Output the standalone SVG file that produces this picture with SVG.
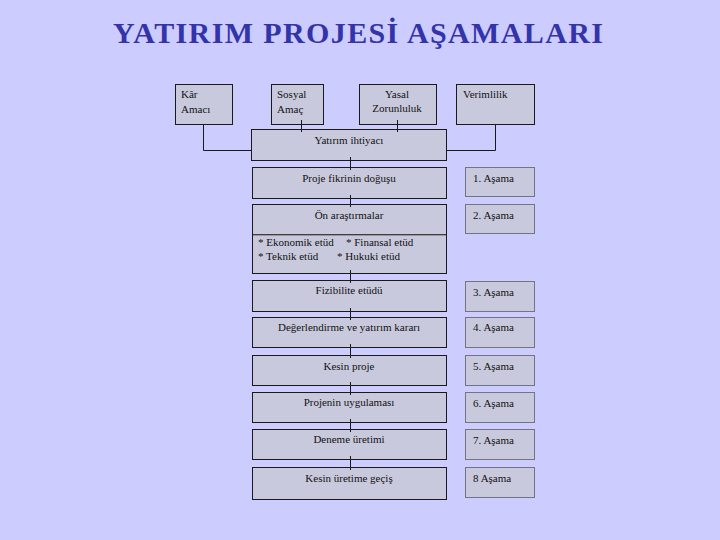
<svg xmlns="http://www.w3.org/2000/svg" width="720" height="540" viewBox="0 0 720 540">
<style>
.bg{fill:#CCCCFF}
.box{fill:#C9C9DD;stroke:#1a1a1a;stroke-width:1}
.stage{fill:#C9C9DD;stroke:#1a1a1a;stroke-width:1;stroke-dasharray:1 1}
.t{font-family:"Liberation Serif","Times New Roman",serif;font-size:11px;fill:#111}
.c{text-anchor:middle}
.title{font-family:"Liberation Serif","Times New Roman",serif;font-size:30px;font-weight:bold;fill:#3333AA;text-anchor:middle}
.ln{stroke:#1a1a1a;stroke-width:1;fill:none}
</style>
<rect class="bg" x="0" y="0" width="720" height="540"/>
<text class="title" x="358" y="43" textLength="490" lengthAdjust="spacing">YATIRIM PROJESİ AŞAMALARI</text>

<g id="kar"><rect class="box" x="175.5" y="84.5" width="57" height="40"/><text class="t" x="181" y="98">Kâr</text><text class="t" x="181" y="113">Amacı</text></g>
<g id="sosyal"><rect class="box" x="271.5" y="84.5" width="52" height="40"/><text class="t" x="277" y="98">Sosyal</text><text class="t" x="277" y="113">Amaç</text></g>
<g id="yasal"><rect class="box" x="359.5" y="84.5" width="77" height="40"/><text class="t c" x="397" y="98">Yasal</text><text class="t c" x="397" y="112">Zorunluluk</text></g>
<g id="verimlilik"><rect class="box" x="456.5" y="84.5" width="78" height="40"/><text class="t" x="463" y="98">Verimlilik</text></g>
<g id="ihtiyac"><rect class="box" x="251.5" y="129.5" width="195" height="31"/><text class="t c" x="349" y="144">Yatırım ihtiyacı</text></g>

<g id="proje"><rect class="box" x="252.5" y="167.5" width="194" height="31"/><text class="t c" x="349" y="182">Proje fikrinin doğuşu</text></g>
<g id="on"><rect class="box" x="252.5" y="204.5" width="194" height="30"/><text class="t c" x="349" y="219">Ön araştırmalar</text></g>
<g id="etud"><rect class="box" x="252.5" y="234.5" width="194" height="39"/><line x1="253" y1="235" x2="446" y2="235" stroke="#666" stroke-width="1"/><text class="t" x="258" y="246">* Ekonomik etüd</text><text class="t" x="346" y="246">* Finansal etüd</text><text class="t" x="258" y="260">* Teknik etüd</text><text class="t" x="337" y="260">* Hukuki etüd</text></g>
<g id="fizibilite"><rect class="box" x="252.5" y="280.5" width="194" height="31"/><text class="t c" x="349" y="294">Fizibilite etüdü</text></g>
<g id="karar"><rect class="box" x="252.5" y="317.5" width="194" height="30"/><text class="t c" x="349" y="331">Değerlendirme ve yatırım kararı</text></g>
<g id="kesinproje"><rect class="box" x="252.5" y="355.5" width="194" height="30"/><text class="t c" x="349" y="370">Kesin proje</text></g>
<g id="uygulama"><rect class="box" x="252.5" y="392.5" width="194" height="30"/><text class="t c" x="349" y="406">Projenin uygulaması</text></g>
<g id="deneme"><rect class="box" x="252.5" y="429.5" width="194" height="30"/><text class="t c" x="349" y="443">Deneme üretimi</text></g>
<g id="kesinuretim"><rect class="box" x="252.5" y="467.5" width="194" height="32"/><text class="t c" x="349" y="482">Kesin üretime geçiş</text></g>

<g id="asama1"><rect class="stage" x="465.5" y="167.5" width="69" height="29"/><text class="t" x="473" y="182">1. Aşama</text></g>
<g id="asama2"><rect class="stage" x="465.5" y="204.5" width="69" height="29"/><text class="t" x="473" y="219">2. Aşama</text></g>
<g id="asama3"><rect class="stage" x="465.5" y="281.5" width="69" height="30"/><text class="t" x="473" y="296">3. Aşama</text></g>
<g id="asama4"><rect class="stage" x="465.5" y="317.5" width="69" height="30"/><text class="t" x="473" y="331">4. Aşama</text></g>
<g id="asama5"><rect class="stage" x="465.5" y="355.5" width="69" height="30"/><text class="t" x="473" y="370">5. Aşama</text></g>
<g id="asama6"><rect class="stage" x="465.5" y="392.5" width="69" height="30"/><text class="t" x="473" y="407">6. Aşama</text></g>
<g id="asama7"><rect class="stage" x="465.5" y="429.5" width="69" height="30"/><text class="t" x="473" y="444">7. Aşama</text></g>
<g id="asama8"><rect class="stage" x="465.5" y="467.5" width="69" height="30"/><text class="t" x="473" y="482">8 Aşama</text></g>

<g id="connectors">
<polyline class="ln" points="203.5,125 203.5,150.5 251,150.5"/>
<polyline class="ln" points="495.5,125 495.5,150.5 447,150.5"/>
<line class="ln" x1="301.5" y1="120" x2="301.5" y2="132"/>
<line class="ln" x1="397.5" y1="120" x2="397.5" y2="132"/>
<line class="ln" x1="350.5" y1="157" x2="350.5" y2="170"/>
<line class="ln" x1="350.5" y1="195" x2="350.5" y2="207"/>
<line class="ln" x1="350.5" y1="270" x2="350.5" y2="283"/>
<line class="ln" x1="350.5" y1="308" x2="350.5" y2="320"/>
<line class="ln" x1="350.5" y1="344" x2="350.5" y2="358"/>
<line class="ln" x1="350.5" y1="382" x2="350.5" y2="395"/>
<line class="ln" x1="350.5" y1="419" x2="350.5" y2="432"/>
<line class="ln" x1="350.5" y1="456" x2="350.5" y2="470"/>
</g>
</svg>
